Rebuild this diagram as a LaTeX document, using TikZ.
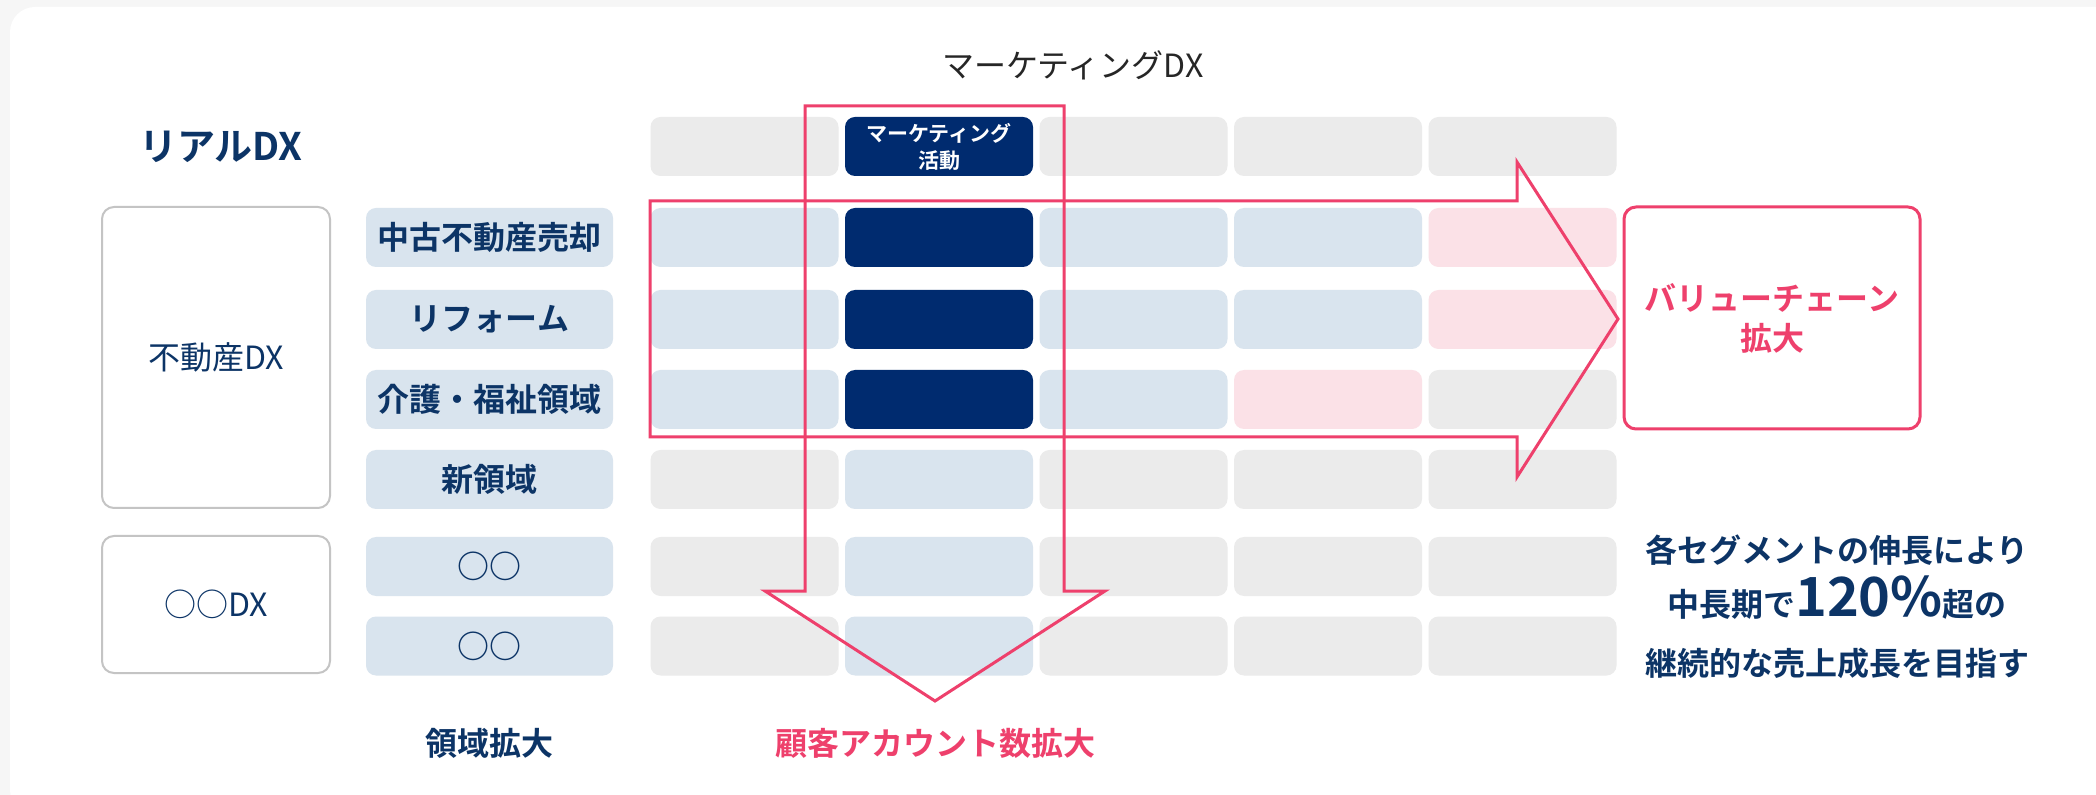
\documentclass[tikz,border=0pt]{standalone}
\usepackage{fontspec}
\setmainfont{Noto Sans CJK JP}[BoldFont={Noto Sans CJK JP Bold}]
\usepackage{xcolor}
\usepackage{tikz}
\usetikzlibrary{positioning}
\definecolor{DXNavy}{RGB}{0,43,111}
\definecolor{DXText}{RGB}{12,52,102}
\definecolor{DXBlue}{RGB}{217,228,238}
\definecolor{DXGray}{RGB}{235,235,235}
\definecolor{DXPink}{RGB}{251,225,231}
\definecolor{DXRed}{RGB}{238,64,108}
\definecolor{DXFrame}{RGB}{196,196,196}
\definecolor{DXBack}{RGB}{246,246,246}

\begin{document}
\begin{tikzpicture}[x=0.5pt, y=-0.5pt]
	\tikzset{
		cell/.style={rounded corners=5pt, minimum width=94pt, minimum height=29.5pt, inner sep=0pt},
		cg/.style={cell, fill=DXGray},
		cb/.style={cell, fill=DXBlue},
		cn/.style={cell, fill=DXNavy},
		cp/.style={cell, fill=DXPink},
		lbl/.style={cell, fill=DXBlue, minimum width=123.5pt, text=DXText,
			font=\bfseries\fontsize{16}{19}\selectfont},
		grp/.style={draw=DXFrame, line width=1pt, rounded corners=6pt, fill=white,
			minimum width=114pt, inner sep=0pt, text=DXText, font=\fontsize{16}{19}\selectfont},
		big/.style={draw=DXRed, line width=1.5pt, line join=miter},
		note/.style={text=DXText, font=\bfseries\fontsize{16}{19}\selectfont, inner sep=0pt, anchor=base}
	}
	\useasboundingbox (0,0) rectangle (2096,795);
	\fill[DXBack] (0,0) rectangle (2096,795);
	\fill[white, rounded corners=12.5pt] (10,7) rectangle (2140,815);
	
	% headings
	\node[text=black!85, font=\fontsize{16}{19}\selectfont] (title) at (1073,65) {マーケティングDX};
	\node[text=DXText, font=\bfseries\fontsize{19}{22}\selectfont] (real) at (221,147) {リアルDX};
	
	% groups
	\node[grp, minimum height=150.5pt] (grp1) at (216,357.5) {不動産DX};
	\node[grp, minimum height=68.5pt] (grp2) at (216,604.5) {○○DX};
	
	% segment labels
	\foreach \r/\yy/\txt in {1/237.5/中古不動産売却, 2/319.5/リフォーム, 3/399.5/介護・福祉領域,
		4/479.5/新領域, 5/566.5/○○, 6/646/○○}
		\node[lbl] (lab\r) at (489.5,\yy) {\txt};
	
	% grid
	\foreach \r/\yy/\fills in {0/146.5/{cg,cn,cg,cg,cg}, 1/237.5/{cb,cn,cb,cb,cp},
		2/319.5/{cb,cn,cb,cb,cp}, 3/399.5/{cb,cn,cb,cp,cg}, 4/479.5/{cg,cb,cg,cg,cg},
		5/566.5/{cg,cb,cg,cg,cg}, 6/646/{cg,cb,cg,cg,cg}}
		\foreach \s [count=\c] in \fills
			\node[\s] (cell\r\c) at ({744.5+194.5*(\c-1)},\yy) {};
	\node[text=white, align=center, font=\bfseries\fontsize{10.5}{13.5}\selectfont] (mkt) at (cell02) {マーケティング\\活動};
	
	% arrows
	\draw[big] (650,201) -- (1517,201) -- (1517,162) -- (1618,319) -- (1517,477) -- (1517,437) -- (650,437) -- cycle;
	\draw[big] (805,106) -- (1064,106) -- (1064,591) -- (1105,591) -- (935,701) -- (765,591) -- (805,591) -- cycle;
	
	\node[draw=DXRed, line width=1.5pt, rounded corners=6pt, minimum width=148pt, minimum height=111pt,
		align=center, text=DXRed, font=\bfseries\fontsize{16}{20}\selectfont] (chain) at (1772,318) {バリューチェーン\\拡大};
	
	% bottom captions
	\node[text=DXText, font=\bfseries\fontsize{16}{19}\selectfont] (area) at (489,743) {領域拡大};
	\node[text=DXRed, font=\bfseries\fontsize{16}{19}\selectfont] (account) at (935,743) {顧客アカウント数拡大};
	
	% message
	\node[note] (msg1) at (1837,562) {各セグメントの伸長により};
	\node[note] (msg2) at (1837,617) {中長期で{\fontsize{27}{30}\selectfont 120\%}超の};
	\node[note] (msg3) at (1837,675) {継続的な売上成長を目指す};
\end{tikzpicture}
\end{document}
